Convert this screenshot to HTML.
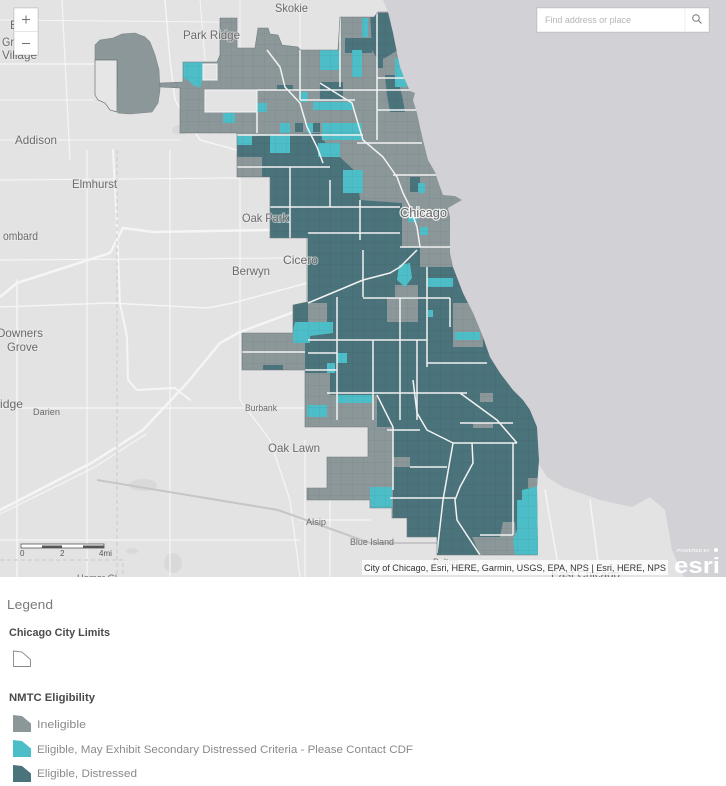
<!DOCTYPE html>
<html><head><meta charset="utf-8"><style>
html,body{margin:0;padding:0;background:#fff;}
svg{display:block;}
text{font-family:"Liberation Sans",Arial,sans-serif;}
</style></head><body>
<svg width="726" height="786" viewBox="0 0 726 786" xmlns="http://www.w3.org/2000/svg">
<defs>
<clipPath id="mapclip"><rect x="0" y="0" width="726" height="577"/></clipPath>
<clipPath id="city"><path d="M388,12 L378,12 L374,17 L340,17 L338,50 L300,50 L298,47 L282,45 L278,35 L270,34 L268,28 L258,28 L255,48 L237,48 L237,18 L220,18 L220,55 L217,62 L183,62 L183,82 L160,83 L160,87 L180,88 L180,133 L237,133 L237,177 L270,177 L270,238 L307,238 L307,302 L293,305 L293,333 L242,333 L242,370 L305,370 L305,427 L368,427 L368,457 L327,457 L327,488 L307,488 L307,500 L370,500 L370,508 L392,508 L392,518 L407,518 L407,537 L437,537 L437,555 L538,555 L537,487 L539,460 L537,427 L530,410 L523,400 L513,390 L500,373 L490,357 L483,337 L473,313 L463,293 L453,267 L450,253 L450,217 L448,208 L455,204 L462,200 L455,196 L443,195 L440,187 L435,172 L428,160 L423,140 L420,127 L417,113 L413,100 L415,93 L410,91 L405,80 L400,67 L397,53 L393,33 L388,12 Z"/></clipPath>
<pattern id="grid" width="11" height="11" patternUnits="userSpaceOnUse"><path d="M0,0 L11,0 M0,0 L0,11" stroke="rgba(0,0,0,0.09)" stroke-width="0.8" fill="none"/></pattern>
</defs>

<g clip-path="url(#mapclip)">
<!-- land -->
<rect x="0" y="0" width="726" height="577" fill="#e3e3e3"/>
<!-- darker patches -->
<g fill="#d9d9d9">
<ellipse cx="143" cy="485" rx="14" ry="6"/>
<ellipse cx="173" cy="563" rx="9" ry="10"/>
<ellipse cx="132" cy="551" rx="6" ry="3"/>
<ellipse cx="180" cy="130" rx="8" ry="5"/>
</g>
<!-- lake -->
<path d="M383,0 L726,0 L726,577 L684,577 L672,550 L665,510 L650,497 L632,507 L600,500 L580,493 L563,487 L547,477 L538,463 L539,460 L537,427 L530,410 L523,400 L513,390 L500,373 L490,357 L483,337 L473,313 L463,293 L453,267 L450,253 L450,217 L448,208 L455,204 L462,200 L455,196 L443,195 L440,187 L435,172 L428,160 L423,140 L420,127 L417,113 L413,100 L415,93 L410,91 L405,80 L400,67 L397,53 L393,33 L388,12 Z" fill="#d2d2d6"/>
<!-- land roads -->
<g fill="none" stroke="#f5f5f5" stroke-linecap="round" stroke-linejoin="round">
<path d="M0,510 L93,462 L143,430 L187,383 L220,343 L240,332 L307,307" stroke-width="2.5"/>
<path d="M0,514 L95,467 L146,434" stroke-width="1.2"/>
<path d="M0,297 L17,283 L110,253 L123,228 L153,232 L270,230" stroke-width="2.5"/>
<path d="M113,150 L117,227 L120,303 L127,337 L128,380 L137,390 L175,388 L190,400" stroke-width="2"/>
<path d="M0,307 L110,303 L207,308 L233,303 L307,283" stroke-width="1.5"/>
<path d="M0,180 L240,178" stroke-width="1.2"/>
<path d="M0,260 L300,258" stroke-width="1.2"/>
<path d="M0,408 L305,408" stroke-width="1.5"/>
<path d="M17,280 L17,577" stroke-width="1.5"/>
<path d="M87,150 L87,577" stroke-width="1.2"/>
<path d="M170,150 L170,577" stroke-width="1.2"/>
<path d="M240,170 L240,400" stroke-width="1.2"/>
<path d="M0,64 L95,64" stroke-width="1.5"/>
<path d="M0,100 L93,100" stroke-width="1"/>
<path d="M62,0 L70,160" stroke-width="1.2"/>
<path d="M165,0 L170,60 L175,100 L200,140 L237,150" stroke-width="1.5"/>
<path d="M0,140 L180,140" stroke-width="1"/>
<path d="M240,0 L240,48 M300,0 L300,48 M200,0 L205,60 M0,20 L220,22" stroke-width="1"/>
<path d="M0,540 L300,540 M305,440 L305,577 M300,520 L370,520 M330,500 L330,577" stroke-width="1.2"/>
<path d="M545,490 L560,577 M590,500 L600,577 M437,560 L520,570" stroke-width="1.5"/>
<path d="M240,400 L270,440 L290,500 L300,577" stroke-width="1.2"/>
</g>
<path d="M97,480 L278,510 L370,543 L463,543" fill="none" stroke="#c6c6c8" stroke-width="2"/>
<path d="M117,150 L117,577 M0,560 L123,560 L123,577" fill="none" stroke="#c8c8c8" stroke-width="1" stroke-dasharray="4,3"/>

<!-- O'Hare -->
<path d="M113,38 L122,34 L135,33 L145,37 L150,42 L155,55 L159,70 L160,90 L158,103 L152,112 L130,114 L118,113 L117,60 L95,60 L95,45 L100,40 Z" fill="#8c9799" stroke="#7a8588" stroke-width="0.6"/>
<path d="M95,60 L117,60 L117,112 L110,110 L105,103 L98,100 L95,95 Z" fill="#e6e6e6" stroke="#6a7477" stroke-width="0.7"/>

<!-- city base -->
<g clip-path="url(#city)">
<rect x="150" y="0" width="400" height="577" fill="#8c9799"/>
<!-- teal main -->
<path d="M237,137 L320,133 L323,140 L343,160 L357,173 L360,200 L402,203 L402,247 L420,247 L420,267 L453,267 L463,293 L473,313 L483,337 L490,357 L500,373 L513,390 L523,400 L530,410 L537,427 L539,460 L537,487 L538,555 L437,555 L437,537 L407,537 L407,518 L393,518 L393,427 L377,427 L377,395 L330,395 L330,373 L305,373 L305,343 L293,343 L293,305 L307,302 L307,238 L270,238 L270,177 L262,177 L262,157 L237,157 Z" fill="#4b737b"/>
<!-- north teal patches -->
<g fill="#4b737b">
<path d="M370,13 L390,13 L395,33 L398,50 L385,58 L378,60 L372,50 Z"/>
<rect x="345" y="38" width="27" height="15"/>
<rect x="377" y="50" width="6" height="18"/>
<path d="M385,75 L397,75 L403,100 L405,112 L390,112 L387,95 Z"/>
<rect x="320" y="82" width="23" height="18"/>
<rect x="277" y="85" width="16" height="5"/>
<rect x="295" y="123" width="8" height="9"/>
<rect x="313" y="123" width="7" height="9"/>
<rect x="353" y="183" width="10" height="7"/>
<rect x="410" y="177" width="10" height="15"/>
<rect x="263" y="365" width="20" height="5"/>
</g>
<!-- gray patches -->
<g fill="#8c9799">
<rect x="453" y="303" width="30" height="44"/>
<rect x="387" y="298" width="31" height="24"/>
<rect x="308" y="303" width="19" height="19"/>
<rect x="395" y="285" width="23" height="12"/>
<path d="M472,537 L500,537 L503,522 L515,522 L517,555 L480,555 Z"/>
<rect x="528" y="478" width="12" height="10"/>
<rect x="393" y="457" width="17" height="10"/>
<rect x="480" y="393" width="13" height="9"/>
<rect x="473" y="423" width="20" height="5"/>
</g>
<!-- cyan -->
<g fill="#4dbdc7">
<path d="M183,62 L203,62 L203,78 L200,88 L193,85 L188,80 L183,78 Z"/>
<rect x="223" y="113" width="12" height="10"/>
<rect x="257" y="103" width="10" height="9"/>
<rect x="320" y="50" width="20" height="20"/>
<rect x="352" y="50" width="10" height="27"/>
<rect x="362" y="18" width="6" height="19"/>
<rect x="300" y="92" width="8" height="10"/>
<rect x="313" y="102" width="40" height="8"/>
<rect x="280" y="123" width="10" height="10"/>
<rect x="307" y="123" width="6" height="10"/>
<rect x="322" y="123" width="40" height="17"/>
<rect x="237" y="135" width="15" height="10"/>
<rect x="270" y="135" width="20" height="18"/>
<rect x="318" y="143" width="22" height="14"/>
<rect x="343" y="170" width="20" height="23"/>
<rect x="395" y="58" width="12" height="29"/>
<rect x="418" y="183" width="7" height="10"/>
<rect x="408" y="217" width="9" height="5"/>
<rect x="420" y="227" width="8" height="8"/>
<path d="M399,265 L410,263 L412,278 L405,287 L397,280 Z"/>
<rect x="427" y="278" width="26" height="9"/>
<rect x="428" y="310" width="5" height="7"/>
<rect x="455" y="332" width="25" height="8"/>
<path d="M295,322 L333,322 L333,333 L310,336 L310,343 L293,343 L293,330 Z"/>
<rect x="337" y="353" width="10" height="10"/>
<rect x="327" y="363" width="8" height="10"/>
<rect x="337" y="395" width="35" height="8"/>
<rect x="307" y="405" width="20" height="12"/>
<rect x="370" y="487" width="22" height="21"/>
<path d="M530,488 L540,486 L540,555 L515,555 L513,540 L517,530 L517,500 L522,500 L522,490 Z"/>
</g>
<!-- tract texture -->
<rect x="150" y="0" width="400" height="577" fill="url(#grid)"/>
<!-- community boundaries -->
<g fill="none" stroke="#f2f2f2" stroke-width="1.5" stroke-linejoin="round">
<path d="M257,90 L410,90 M300,100 L355,100 M377,78 L410,78 M378,110 L420,110 M237,135 L363,135 M357,143 L422,143 M237,167 L330,167 M393,175 L440,175"/>
<path d="M377,13 L377,140 M340,17 L340,87 M300,50 L300,100 M257,112 L257,133"/>
<path d="M267,50 L280,67 L285,87 L300,103 L307,127 L317,147 L323,163"/>
<path d="M320,83 L352,103 L357,120 L363,140 L383,157 L397,177 L403,193 L410,207 L417,227 L420,247"/>
<path d="M270,207 L400,207 M308,233 L400,233 M400,247 L450,247 M363,250 L363,297"/>
<path d="M308,303 L363,280 L390,273 L400,267 L417,250"/>
<path d="M363,298 L450,298 M308,340 L427,340 M308,353 L337,353 M305,370 L337,370 M327,393 L467,393"/>
<path d="M337,297 L337,420 M373,340 L373,420 M400,298 L400,420 M417,340 L417,420 M427,267 L427,367 M450,298 L450,327"/>
<path d="M427,363 L487,363 M460,393 L497,420 L517,443 M460,423 L513,423 M453,443 L517,443"/>
<path d="M413,380 L417,413 L427,430 L433,433 L453,443 L443,500 L437,553"/>
<path d="M472,443 L473,463 L460,487 L455,500 L457,520 L480,555"/>
<path d="M390,498 L455,498 M480,535 L513,535 M513,443 L513,535 M387,430 L420,430 M410,467 L447,467"/>
<path d="M377,395 L393,427 L393,490 M290,167 L290,238 M307,238 L307,302 M242,352 L305,352"/>
<path d="M330,180 L330,207 M360,200 L360,240"/>
</g>
</g>
<!-- city outline -->
<path d="M388,12 L378,12 L374,17 L340,17 L338,50 L300,50 L298,47 L282,45 L278,35 L270,34 L268,28 L258,28 L255,48 L237,48 L237,18 L220,18 L220,55 L217,62 L183,62 L183,82 L160,83 L160,87 L180,88 L180,133 L237,133 L237,177 L270,177 L270,238 L307,238 L307,302 L293,305 L293,333 L242,333 L242,370 L305,370 L305,427 L368,427 L368,457 L327,457 L327,488 L307,488 L307,500 L370,500 L370,508 L392,508 L392,518 L407,518 L407,537 L437,537 L437,555 L538,555" fill="none" stroke="#6f7a7d" stroke-width="0.6"/>
<!-- holes -->
<rect x="205" y="90" width="52" height="22" fill="#e3e3e3" stroke="#f5f5f5" stroke-width="1"/>
<rect x="203" y="64" width="14" height="16" fill="#e3e3e3" stroke="#f5f5f5" stroke-width="1"/>

<!-- labels -->
<g fill="#6b6b6b" font-size="12" stroke="#ececec" stroke-width="2" paint-order="stroke" stroke-opacity="0.6">
<text x="275" y="12" textLength="33" lengthAdjust="spacingAndGlyphs">Skokie</text>
<text x="183" y="39" textLength="57" lengthAdjust="spacingAndGlyphs">Park Ridge</text>
<text x="15" y="144" textLength="42" lengthAdjust="spacingAndGlyphs">Addison</text>
<text x="72" y="188" textLength="45" lengthAdjust="spacingAndGlyphs">Elmhurst</text>
<text x="3" y="240" textLength="35" lengthAdjust="spacingAndGlyphs">ombard</text>
<text x="242" y="222" textLength="46" lengthAdjust="spacingAndGlyphs">Oak Park</text>
<text x="232" y="275" textLength="38" lengthAdjust="spacingAndGlyphs">Berwyn</text>
<text x="283" y="264" textLength="35" lengthAdjust="spacingAndGlyphs">Cicero</text>
<text x="-3" y="337" textLength="46" lengthAdjust="spacingAndGlyphs">Downers</text>
<text x="7" y="351" textLength="31" lengthAdjust="spacingAndGlyphs">Grove</text>
<text x="0" y="408" textLength="23" lengthAdjust="spacingAndGlyphs">idge</text>
<text x="268" y="452" textLength="52" lengthAdjust="spacingAndGlyphs">Oak Lawn</text>
<text x="10" y="29">E</text>
<text x="2" y="46" textLength="12" lengthAdjust="spacingAndGlyphs">Gr</text>
<text x="2" y="59" textLength="35" lengthAdjust="spacingAndGlyphs">Village</text>
</g>
<text x="400" y="217" font-size="13" fill="#666" stroke="#fff" stroke-width="2.5" paint-order="stroke" stroke-opacity="0.85" textLength="47" lengthAdjust="spacingAndGlyphs">Chicago</text>
<g fill="#6b6b6b" font-size="9">
<text x="33" y="415" textLength="27" lengthAdjust="spacingAndGlyphs">Darien</text>
<text x="245" y="411" textLength="32" lengthAdjust="spacingAndGlyphs">Burbank</text>
<text x="306" y="525" textLength="20" lengthAdjust="spacingAndGlyphs">Alsip</text>
<text x="350" y="545" textLength="44" lengthAdjust="spacingAndGlyphs">Blue Island</text>
<text x="433" y="565" textLength="25" lengthAdjust="spacingAndGlyphs">Dolton</text>
<text x="77" y="581" textLength="40" lengthAdjust="spacingAndGlyphs">Homer Gl</text>
</g>
<text x="551" y="578" font-size="11" fill="#6b6b6b" textLength="69" lengthAdjust="spacingAndGlyphs">East Chicago</text>

<!-- scale bar -->
<rect x="21" y="544" width="83" height="4" fill="#fff" stroke="#555" stroke-width="0.8"/>
<rect x="42" y="545.5" width="20" height="2.5" fill="#555"/>
<rect x="83" y="545.5" width="21" height="2.5" fill="#555"/>
<g fill="#555" font-size="8">
<text x="20" y="556">0</text>
<text x="60" y="556">2</text>
<text x="99" y="556">4mi</text>
</g>

<!-- attribution -->
<rect x="362" y="560" width="306" height="15" fill="#fff" fill-opacity="0.8"/>
<text x="364" y="571" font-size="9.5" fill="#333" textLength="302" lengthAdjust="spacingAndGlyphs">City of Chicago, Esri, HERE, Garmin, USGS, EPA, NPS | Esri, HERE, NPS</text>
<!-- esri logo -->
<text x="677" y="552" font-size="4.5" fill="#fff" textLength="33" lengthAdjust="spacingAndGlyphs">POWERED BY</text>
<circle cx="716" cy="550" r="2" fill="#fff"/>
<text x="674" y="573" font-size="22" font-weight="bold" fill="#fff" textLength="46" lengthAdjust="spacingAndGlyphs">esri</text>

<!-- zoom control -->
<rect x="14" y="8" width="24" height="47" fill="#fff" stroke="rgba(0,0,0,0.15)" stroke-width="1"/>
<line x1="14" y1="31.5" x2="38" y2="31.5" stroke="#e6e6e6" stroke-width="1"/>
<path d="M22,19.5 L30,19.5 M26,15.5 L26,23.5 M22,43.5 L30,43.5" stroke="#6e6e6e" stroke-width="1" fill="none"/>

<!-- search box -->
<rect x="537" y="8" width="172" height="24" fill="#fff" stroke="rgba(0,0,0,0.12)" stroke-width="1"/>
<line x1="685" y1="8" x2="685" y2="32" stroke="#eee" stroke-width="1"/>
<text x="545" y="23" font-size="9" fill="#b5b5b5" textLength="86" lengthAdjust="spacingAndGlyphs">Find address or place</text>
<circle cx="696" cy="18" r="3.3" fill="none" stroke="#777" stroke-width="1"/>
<line x1="698.5" y1="20.5" x2="701.5" y2="23.5" stroke="#777" stroke-width="1.1"/>
</g>

<!-- legend -->
<rect x="0" y="577" width="726" height="209" fill="#fff"/>
<text x="7" y="609" font-size="13" fill="#7a7a7a" textLength="46" lengthAdjust="spacingAndGlyphs">Legend</text>
<text x="9" y="636" font-size="11" font-weight="bold" fill="#4a4a4a" textLength="101" lengthAdjust="spacingAndGlyphs">Chicago City Limits</text>
<path d="M13.5,651 L22,652 L30.5,659.5 L30.5,666.5 L13.5,666.5 Z" fill="#fff" stroke="#888" stroke-width="0.9"/>
<text x="9" y="701" font-size="11" font-weight="bold" fill="#4a4a4a" textLength="86" lengthAdjust="spacingAndGlyphs">NMTC Eligibility</text>
<path d="M13,715 L22,716 L31,723.5 L31,732 L13,732 Z" fill="#8c9799"/>
<path d="M13,740 L22,741 L31,748.5 L31,757 L13,757 Z" fill="#4dbdc7"/>
<path d="M13,765 L22,766 L31,773.5 L31,782 L13,782 Z" fill="#4b737b"/>
<g font-size="11" fill="#8a8a8a">
<text x="37" y="728" textLength="49" lengthAdjust="spacingAndGlyphs">Ineligible</text>
<text x="37" y="753" textLength="376" lengthAdjust="spacingAndGlyphs">Eligible, May Exhibit Secondary Distressed Criteria - Please Contact CDF</text>
<text x="37" y="777" textLength="100" lengthAdjust="spacingAndGlyphs">Eligible, Distressed</text>
</g>
</svg>
</body></html>
